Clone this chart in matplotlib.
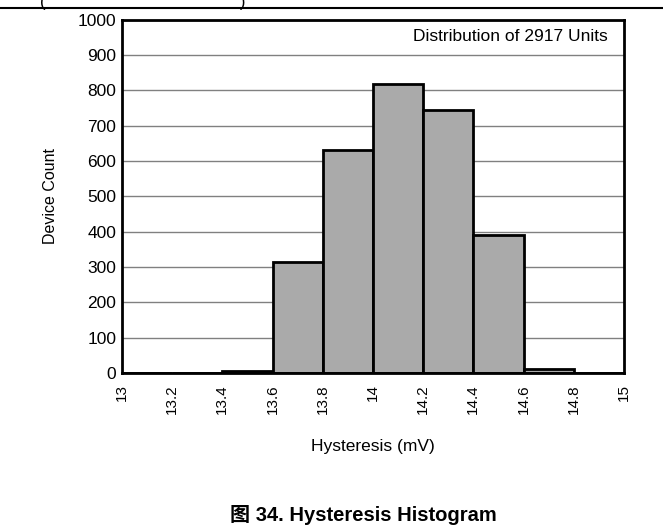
import matplotlib
matplotlib.use('Agg')
import matplotlib.pyplot as plt
from matplotlib.lines import Line2D

plt.rcParams['font.family'] = ['Liberation Sans', 'Noto Sans CJK SC', 'DejaVu Sans']

# histogram bins (mV) and device counts
BIN_EDGES = [13.0, 13.2, 13.4, 13.6, 13.8, 14.0, 14.2, 14.4, 14.6, 14.8, 15.0]
COUNTS = [0, 0, 5, 315, 632, 819, 745, 391, 10, 0]
X_TICKS = [13, 13.2, 13.4, 13.6, 13.8, 14, 14.2, 14.4, 14.6, 14.8, 15]
X_TICK_LABELS = ['13', '13.2', '13.4', '13.6', '13.8', '14', '14.2', '14.4', '14.6', '14.8', '15']
Y_TICKS = list(range(0, 1001, 100))

fig = plt.figure(figsize=(6.63, 5.31), dpi=100)
ax = fig.add_axes([0.184, 0.2976, 0.757, 0.665])

lefts = BIN_EDGES[:-1]
widths = [b - a for a, b in zip(BIN_EDGES[:-1], BIN_EDGES[1:])]
ax.bar(lefts, COUNTS, width=widths, align='edge', color='#aaaaaa',
       edgecolor='black', linewidth=2, zorder=3)

ax.set_xlim(13, 15)
ax.set_ylim(0, 1000)
ax.set_xticks(X_TICKS)
ax.set_xticklabels(X_TICK_LABELS, rotation=90)
ax.set_yticks(Y_TICKS)
ax.tick_params(length=0)
ax.tick_params(axis='y', labelsize=12.5, pad=4)
ax.tick_params(axis='x', labelsize=11, pad=8)
ax.yaxis.grid(True, color='#808080', linewidth=1)
ax.set_axisbelow(True)
for s in ax.spines.values():
    s.set_linewidth(2)
    s.set_zorder(4)

ax.set_ylabel('Device Count', fontsize=11.5, labelpad=14)
ax.set_xlabel('Hysteresis (mV)', fontsize=12.5, labelpad=18)
ax.text(0.968, 0.952, 'Distribution of 2917 Units', transform=ax.transAxes,
        ha='right', va='center', fontsize=12.5, zorder=5)

# header rule with clipped text above it
fig.add_artist(Line2D([0, 1], [1 - 7.5 / 531, 1 - 7.5 / 531], color='black', linewidth=1.5))
fig.text(40 / 663, 1 - 2 / 531, '(' + ' ' * 42 + ')', fontsize=12, ha='left', va='center')

fig.text(363 / 663, 1 - 515 / 531, '图 34. Hysteresis Histogram', ha='center', va='center',
         fontsize=14.5, fontweight='bold')

fig.savefig('out.png', dpi=100)
